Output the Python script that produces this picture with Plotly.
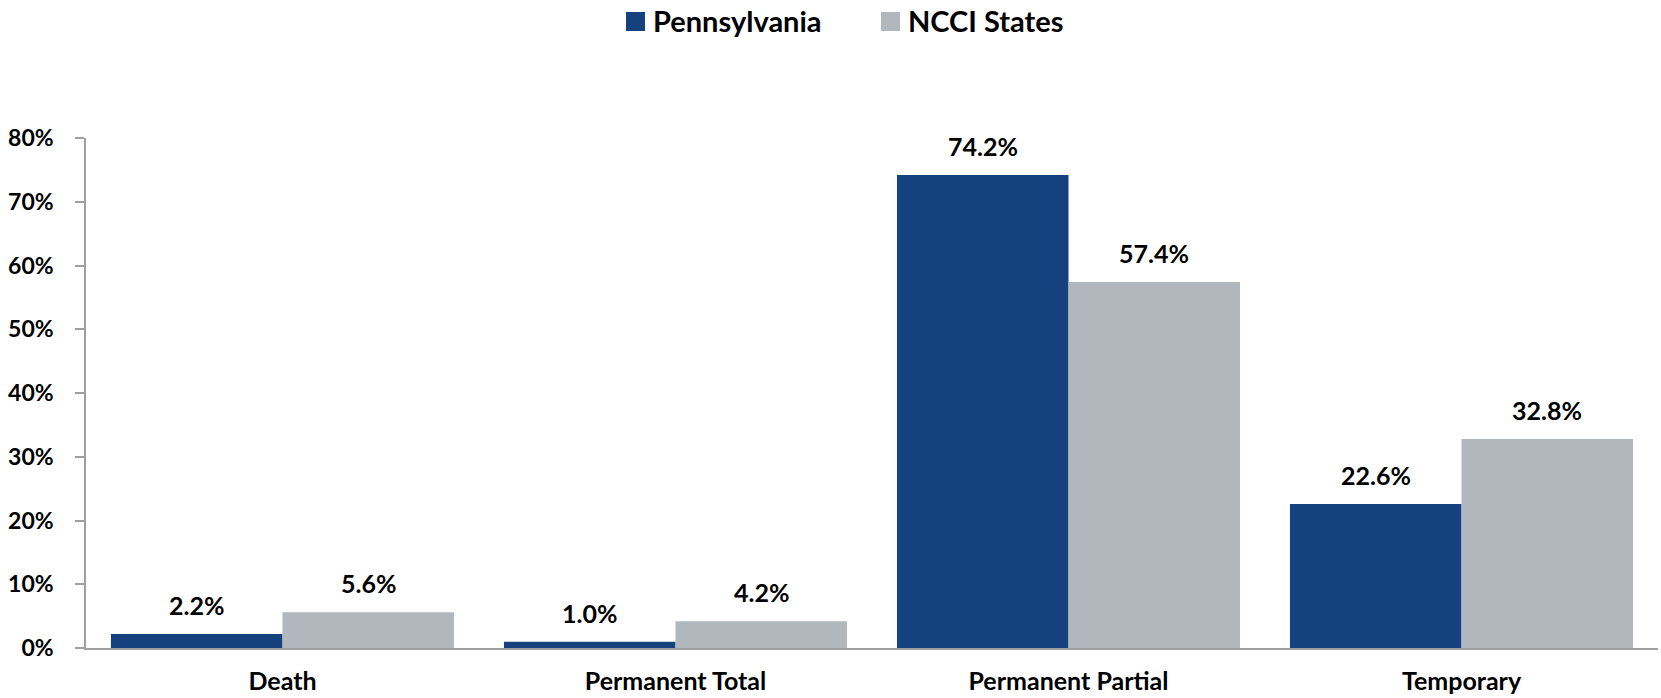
import plotly.graph_objects as go

categories = ["Death", "Permanent Total", "Permanent Partial", "Temporary"]
pennsylvania = [2.2, 1.0, 74.2, 22.6]
ncci_states = [5.6, 4.2, 57.4, 32.8]
series_names = ["Pennsylvania", "NCCI States"]
y_ticks = [0, 10, 20, 30, 40, 50, 60, 70, 80]
y_tick_labels = [f"{v}%" for v in y_ticks]

PENN_COLOR = "#15417E"
NCCI_COLOR = "#B2B6BD"
AXIS_COLOR = "#A0A0A0"
FONT = "Lato"

W, H = 1661, 698
margin = dict(l=86, r=3, t=138, b=50)
bargap = 0.127
plot_w = W - margin["l"] - margin["r"]
plot_h = H - margin["t"] - margin["b"]


def px_x(px):
    return (px - margin["l"]) / plot_w


def px_y(py):
    return (H - margin["b"] - py) / plot_h


fig = go.Figure()
fig.add_trace(go.Bar(x=categories, y=pennsylvania, name=series_names[0],
                     marker=dict(color=PENN_COLOR, line=dict(width=0))))
fig.add_trace(go.Bar(x=categories, y=ncci_states, name=series_names[1],
                     marker=dict(color=NCCI_COLOR, line=dict(width=0))))

cat_w = plot_w / len(categories)
bar_w = cat_w * (1 - bargap) / 2

annotations = []
for series, sign in ((pennsylvania, -1), (ncci_states, 1)):
    for c, v in zip(categories, series):
        annotations.append(dict(
            x=c, y=v, xref="x", yref="y", text=f"{v:.1f}%",
            showarrow=False, xshift=sign * bar_w / 2, yshift=12, yanchor="bottom",
            font=dict(family=FONT, size=25, color="#000000", weight="bold"),
        ))

# custom legend (larger square swatches like the reference)
shapes = []
legend_items = [(series_names[0], PENN_COLOR, 626), (series_names[1], NCCI_COLOR, 881)]
sw = 19
for name, color, left in legend_items:
    shapes.append(dict(type="rect", xref="paper", yref="paper",
                       x0=px_x(left), x1=px_x(left + sw),
                       y0=px_y(12 + sw), y1=px_y(12),
                       fillcolor=color, line=dict(width=0)))
    annotations.append(dict(xref="paper", yref="paper", x=px_x(left + sw + 6), y=px_y(21),
                            xanchor="left", yanchor="middle", showarrow=False,
                            text=name,
                            font=dict(family=FONT, size=29, color="#000000", weight="bold")))

fig.update_layout(
    width=W, height=H, margin=margin,
    paper_bgcolor="white", plot_bgcolor="white",
    barmode="group", bargap=bargap, bargroupgap=0,
    annotations=annotations, shapes=shapes,
    showlegend=False,
)
fig.update_xaxes(
    showline=True, linecolor=AXIS_COLOR, linewidth=1.5, ticks="",
    tickfont=dict(family=FONT, size=25, color="#000000", weight="bold"),
    ticklabelstandoff=10, showgrid=False, automargin=False,
)
fig.update_yaxes(
    range=[0, 80], showline=True, linecolor=AXIS_COLOR, linewidth=1.5,
    ticks="outside", ticklen=9, tickcolor=AXIS_COLOR, tickwidth=1.5,
    tickvals=y_ticks, ticktext=y_tick_labels,
    tickfont=dict(family=FONT, size=23, color="#000000", weight="bold"),
    ticklabelstandoff=17, showgrid=False, zeroline=False, automargin=False,
)

fig.write_html("out.html", config={"displayModeBar": False},
               post_script="document.body.style.margin='0';document.body.style.overflow='hidden';")
